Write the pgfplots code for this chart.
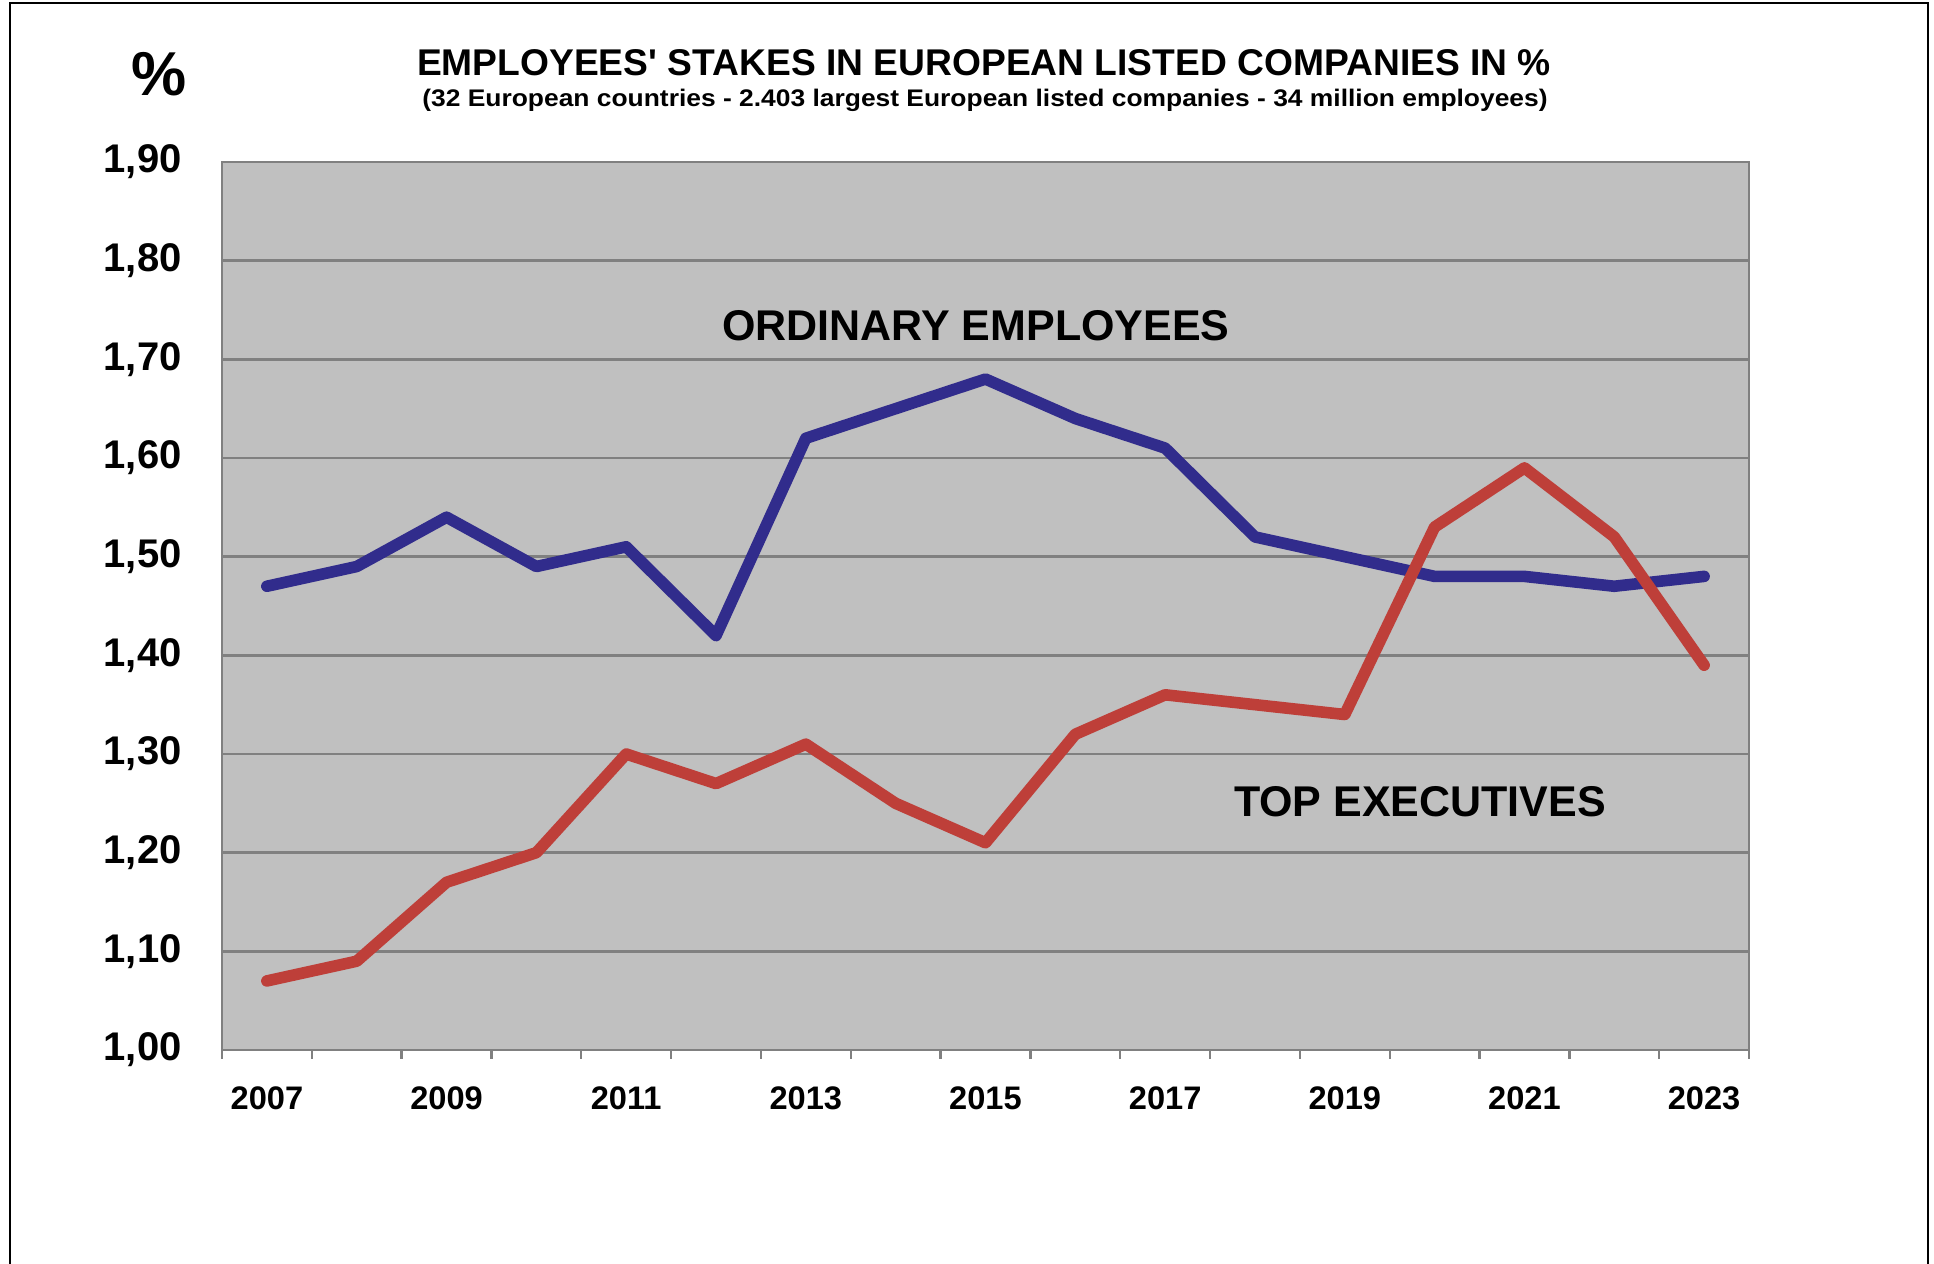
\documentclass[border=0pt]{standalone}
\usepackage{pgfplots}
\usepackage{fontspec}
\setmainfont{Liberation Sans}
\newfontfamily\widesans[FakeStretch=1.1]{Liberation Sans}
\pgfplotsset{compat=1.18}
\definecolor{plotbg}{HTML}{C0C0C0}
\definecolor{gridgray}{HTML}{808080}
\definecolor{ordblue}{HTML}{312C8C}
\definecolor{topred}{HTML}{BE3F39}
\begin{document}
\begin{tikzpicture}
\path[use as bounding box] (0,0) rectangle (967pt,632pt);
\draw[black, line width=1pt] (5pt,0) -- (5pt,630.5pt) -- (964pt,630.5pt) -- (964pt,0);
\begin{axis}[
    at={(111pt,107pt)}, anchor=south west,
    scale only axis,
    width=763.5pt, height=444pt,
    xmin=-0.5, xmax=16.5,
    ymin=1.0, ymax=1.9,
    xtick={0,2,...,16},
    xticklabels={2007,2009,2011,2013,2015,2017,2019,2021,2023},
    minor xtick={-0.5,0.5,...,16.5},
    ytick={1.0,1.1,...,1.91},
    tick pos=left,
    major tick length=0pt,
    minor tick length=4.5pt,
    xtick align=outside,
    minor tick style={gridgray, line width=1.2pt},
    ymajorgrids,
    major grid style={gridgray, line width=1.2pt},
    axis line style={gridgray, line width=1.4pt},
    axis background/.style={fill=plotbg},
    /pgf/number format/assume math mode=true,
    yticklabel={\pgfmathprintnumber[fixed,fixed zerofill,precision=2,use comma]{\tick}},
    y tick label style={font=\fontsize{20}{20}\selectfont\bfseries, inner sep=0pt, anchor=east},
    x tick label style={font=\fontsize{16.3}{16}\selectfont\bfseries, inner sep=0pt, anchor=north},
    yticklabel shift=20pt,
    xticklabel shift=18pt,
    clip=false,
]
\addplot[ordblue, line width=5.8pt, line cap=round, line join=round] coordinates {
  (0,1.47) (1,1.49) (2,1.54) (3,1.49) (4,1.51) (5,1.42) (6,1.62) (7,1.65) (8,1.68)
  (9,1.64) (10,1.61) (11,1.52) (12,1.50) (13,1.48) (14,1.48) (15,1.47) (16,1.48)};
\addplot[topred, line width=5.8pt, line cap=round, line join=round] coordinates {
  (0,1.07) (1,1.09) (2,1.17) (3,1.20) (4,1.30) (5,1.27) (6,1.31) (7,1.25) (8,1.21)
  (9,1.32) (10,1.36) (11,1.35) (12,1.34) (13,1.53) (14,1.59) (15,1.52) (16,1.39)};
\end{axis}
\node[font=\fontsize{31}{31}\selectfont\bfseries] at (79.5pt,595pt) {\%};
\node[font=\fontsize{18.6}{19}\selectfont\bfseries] at (492pt,600.5pt) {EMPLOYEES\textquotesingle{} STAKES IN EUROPEAN LISTED COMPANIES IN \%};
\node[font=\widesans\fontsize{12}{12}\selectfont\bfseries] at (492.5pt,582pt) {(32 European countries - 2.403 largest European listed companies - 34 million employees)};
\node[font=\fontsize{21.5}{22}\selectfont\bfseries] at (488pt,469pt) {ORDINARY EMPLOYEES};
\node[font=\fontsize{21.5}{22}\selectfont\bfseries] at (710pt,231pt) {TOP EXECUTIVES};
\end{tikzpicture}
\end{document}
